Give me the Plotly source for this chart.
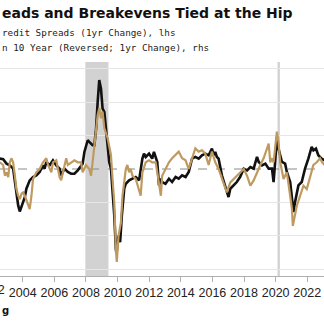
import plotly.graph_objects as go

# ---- data ----
tick_years = [2002, 2004, 2006, 2008, 2010, 2012, 2014, 2016, 2018, 2020, 2022]
tick_labels = [str(y) for y in tick_years]

# Credit spreads, 1yr change (lhs, bp)
credit_x = [2002.55, 2002.76, 2002.97, 2003.18, 2003.39, 2003.50, 2003.60, 2003.71, 2003.81, 2003.92,
            2004.02, 2004.13, 2004.23, 2004.44, 2004.65, 2004.86, 2005.07, 2005.28, 2005.38, 2005.49,
            2005.70, 2005.91, 2006.12, 2006.33, 2006.43, 2006.64, 2006.85, 2007.06, 2007.27, 2007.48,
            2007.69, 2007.79, 2007.90, 2008.11, 2008.21, 2008.42, 2008.53, 2008.64, 2008.74, 2008.84,
            2008.95, 2009.05, 2009.16, 2009.26, 2009.37, 2009.47, 2009.58, 2009.68, 2009.79, 2009.89,
            2009.93, 2010.06, 2010.16, 2010.27, 2010.42, 2010.52, 2010.73, 2010.94, 2011.15, 2011.36,
            2011.57, 2011.67, 2011.78, 2011.99, 2012.19, 2012.30, 2012.51, 2012.62, 2012.74, 2012.82,
            2013.03, 2013.25, 2013.45, 2013.67, 2013.87, 2014.08, 2014.30, 2014.50, 2014.71, 2014.92,
            2015.13, 2015.34, 2015.55, 2015.76, 2015.97, 2016.08, 2016.18, 2016.28, 2016.39, 2016.60,
            2016.81, 2017.02, 2017.13, 2017.33, 2017.54, 2017.75, 2017.98, 2018.19, 2018.40, 2018.61,
            2018.82, 2018.93, 2019.14, 2019.35, 2019.56, 2019.77, 2019.87, 2019.97, 2020.08, 2020.18,
            2020.29, 2020.40, 2020.60, 2020.71, 2020.92, 2021.03, 2021.13, 2021.23, 2021.34, 2021.44,
            2021.65, 2021.86, 2022.07, 2022.28, 2022.39, 2022.55, 2022.70, 2022.91, 2023.10]
credit_chg = [31, 29, 16, 11, 1, -39, -79, -109, -127, -109,
              -99, -84, -59, -34, -24, -19, -9, 11, 1, 21,
              11, 26, 11, 1, -19, 1, -9, -14, -14, -4,
              11, 16, 51, 86, 81, 71, 71, 121, 201, 266,
              240, 181, 171, 121, 71, 21, 1, -59, -139, -239,
              -254, -199, -219, -139, -59, -44, -34, -29, -24, -34,
              31, 46, 36, 46, 31, 51, 21, -49, -29, -39,
              -44, -29, -39, -24, -29, -19, -24, -9, 31, 36,
              31, 41, 46, 41, 61, 41, 51, 36, 31, -19,
              -49, -84, -59, -49, -39, -24, 1, -4, 6, 1,
              36, 21, 11, 16, 1, 1, -39, 21, 96, 61,
              41, 21, 16, -9, -39, -79, -129, -99, -69, -49,
              -39, 1, 31, 66, 56, 61, 41, 31, 26]

# 10yr breakeven, 1yr change (rhs, pct pts, plotted on a reversed axis)
be_x = [2002.55, 2002.76, 2002.87, 2002.97, 2003.08, 2003.18, 2003.29, 2003.39, 2003.50, 2003.60,
        2003.71, 2003.81, 2003.92, 2004.02, 2004.13, 2004.33, 2004.44, 2004.55, 2004.65, 2004.86,
        2005.07, 2005.28, 2005.49, 2005.60, 2005.81, 2005.91, 2006.12, 2006.23, 2006.33, 2006.43,
        2006.54, 2006.75, 2006.85, 2007.06, 2007.27, 2007.48, 2007.69, 2007.79, 2008.00, 2008.21,
        2008.32, 2008.42, 2008.53, 2008.64, 2008.74, 2008.84, 2008.95, 2009.05, 2009.16, 2009.37,
        2009.47, 2009.58, 2009.68, 2009.79, 2009.89, 2009.95, 2010.06, 2010.21, 2010.31, 2010.42,
        2010.52, 2010.62, 2010.73, 2010.83, 2010.94, 2011.15, 2011.36, 2011.46, 2011.57, 2011.78,
        2011.99, 2012.19, 2012.41, 2012.62, 2012.74, 2012.82, 2013.03, 2013.25, 2013.45, 2013.67,
        2013.87, 2014.08, 2014.30, 2014.50, 2014.71, 2014.82, 2014.92, 2015.13, 2015.34, 2015.55,
        2015.76, 2015.97, 2016.18, 2016.39, 2016.60, 2016.81, 2016.91, 2017.13, 2017.33, 2017.54,
        2017.75, 2017.98, 2018.19, 2018.40, 2018.61, 2018.82, 2019.03, 2019.24, 2019.45, 2019.56,
        2019.66, 2019.77, 2019.87, 2019.97, 2020.08, 2020.18, 2020.29, 2020.50, 2020.71, 2020.92,
        2021.03, 2021.09, 2021.23, 2021.34, 2021.55, 2021.76, 2021.97, 2022.18, 2022.39, 2022.60,
        2022.81, 2022.94, 2023.10]
be_chg = [-0.10, -0.06, 0.10, 0.05, 0.12, -0.10, -0.16, -0.10, 0.10, 0.30,
          0.40, 0.45, 0.37, 0.35, 0.40, 0.55, 0.60, 0.40, 0.15, 0.05,
          0.00, -0.10, -0.16, -0.06, 0.05, -0.10, -0.13, 0.00, 0.12, 0.17,
          0.05, -0.16, -0.06, -0.10, -0.13, -0.10, -0.10, 0.05, -0.06, 0.00,
          0.10, -0.10, -0.36, -0.61, -0.81, -0.91, -0.76, -0.86, -0.61, -0.46,
          -0.36, -0.21, 0.15, 0.50, 1.20, 1.39, 1.00, 0.80, 0.40, 0.15,
          0.00, -0.06, 0.05, 0.00, 0.10, 0.15, 0.30, 0.40, 0.05, -0.10,
          -0.13, -0.10, -0.10, 0.20, 0.40, 0.10, 0.00, -0.10, -0.16, -0.21,
          -0.26, -0.16, -0.13, 0.00, -0.16, -0.26, -0.31, -0.26, -0.28, -0.23,
          -0.06, -0.26, -0.10, 0.00, 0.15, 0.30, 0.35, 0.20, 0.15, 0.10,
          0.05, 0.00, 0.10, 0.25, 0.17, 0.05, -0.06, -0.16, -0.31, -0.38,
          -0.10, -0.16, -0.10, -0.33, -0.56, -0.41, -0.10, 0.15, 0.05, 0.40,
          0.60, 0.85, 0.70, 0.55, 0.40, 0.25, 0.30, 0.10, -0.06, -0.10,
          -0.16, -0.10, -0.06]

assert len(credit_x) == len(credit_chg)
assert len(be_x) == len(be_chg)

recessions = [(2007.96, 2009.42), (2020.12, 2020.27)]

X_RANGE = [2002.56, 2023.06]
LHS_RANGE = [-320, 320]
RHS_RANGE = [1.6, -1.6]  # reversed

FONT = "DejaVu Sans"
MONO = "DejaVu Sans Mono"
TICKFONT = "Liberation Sans"

fig = go.Figure()
fig.add_trace(go.Scatter(x=be_x, y=be_chg, mode="lines", yaxis="y2",
                         line=dict(color="#BF9A60", width=2.2), showlegend=False,
                         name="10 Year (Reversed; 1yr Change), rhs"))
fig.add_trace(go.Scatter(x=credit_x, y=credit_chg, mode="lines",
                         line=dict(color="#111111", width=2.6), showlegend=False,
                         name="Credit Spreads (1yr Change), lhs"))

shapes = []
for a, b in recessions:
    shapes.append(dict(type="rect", xref="x", yref="paper", x0=a, x1=b, y0=0, y1=1,
                       fillcolor="#d2d2d2", line=dict(width=0), layer="below"))
shapes.append(dict(type="line", xref="paper", yref="y", x0=0, x1=1, y0=0, y1=0,
                   line=dict(color="#8a8a8a", width=1, dash="dash"), layer="below"))

ann = [
    dict(text="<b>eads and Breakevens Tied at the Hip</b>", x=0, y=1.229, xref="paper", yref="paper",
         xanchor="left", yanchor="middle", showarrow=False, font=dict(family=FONT, size=14, color="#111")),
    dict(text="redit Spreads (1yr Change), lhs", x=0, y=1.140, xref="paper", yref="paper",
         xanchor="left", yanchor="middle", showarrow=False, font=dict(family=MONO, size=9.3, color="#222")),
    dict(text="n 10 Year (Reversed; 1yr Change), rhs", x=0, y=1.070, xref="paper", yref="paper",
         xanchor="left", yanchor="middle", showarrow=False, font=dict(family=MONO, size=9.3, color="#222")),
    dict(text="<b>g</b>", x=0, y=-0.159, xref="paper", yref="paper",
         xanchor="left", yanchor="middle", showarrow=False, font=dict(family=FONT, size=10, color="#111")),
    dict(text=tick_labels[0], x=(tick_years[0] - X_RANGE[0]) / (X_RANGE[1] - X_RANGE[0]), y=-0.064,
         xref="paper", yref="paper", xanchor="center", yanchor="middle", showarrow=False,
         font=dict(family=TICKFONT, size=12.5, color="#222")),
]

fig.update_layout(
    width=324, height=328,
    margin=dict(l=0, r=0, t=62, b=52),
    paper_bgcolor="white", plot_bgcolor="white",
    shapes=shapes, annotations=ann,
    xaxis=dict(range=X_RANGE, tickvals=tick_years[1:], ticktext=tick_labels[1:], tickangle=0,
               ticklabeloverflow="allow",
               showgrid=False, zeroline=False, showline=True, linecolor="#b0b0b0",
               ticks="outside", ticklen=5, tickcolor="#b0b0b0",
               tickfont=dict(family=TICKFONT, size=12.5, color="#222")),
    yaxis=dict(range=LHS_RANGE, tickvals=[-300, -200, -100, 100, 200, 300], showticklabels=False,
               showgrid=True, gridcolor="#e6e6e6", gridwidth=1, zeroline=False, ticks=""),
    yaxis2=dict(range=RHS_RANGE, overlaying="y", side="right", showgrid=False,
                showticklabels=False, zeroline=False, ticks=""),
)

fig.write_html("out.html")
